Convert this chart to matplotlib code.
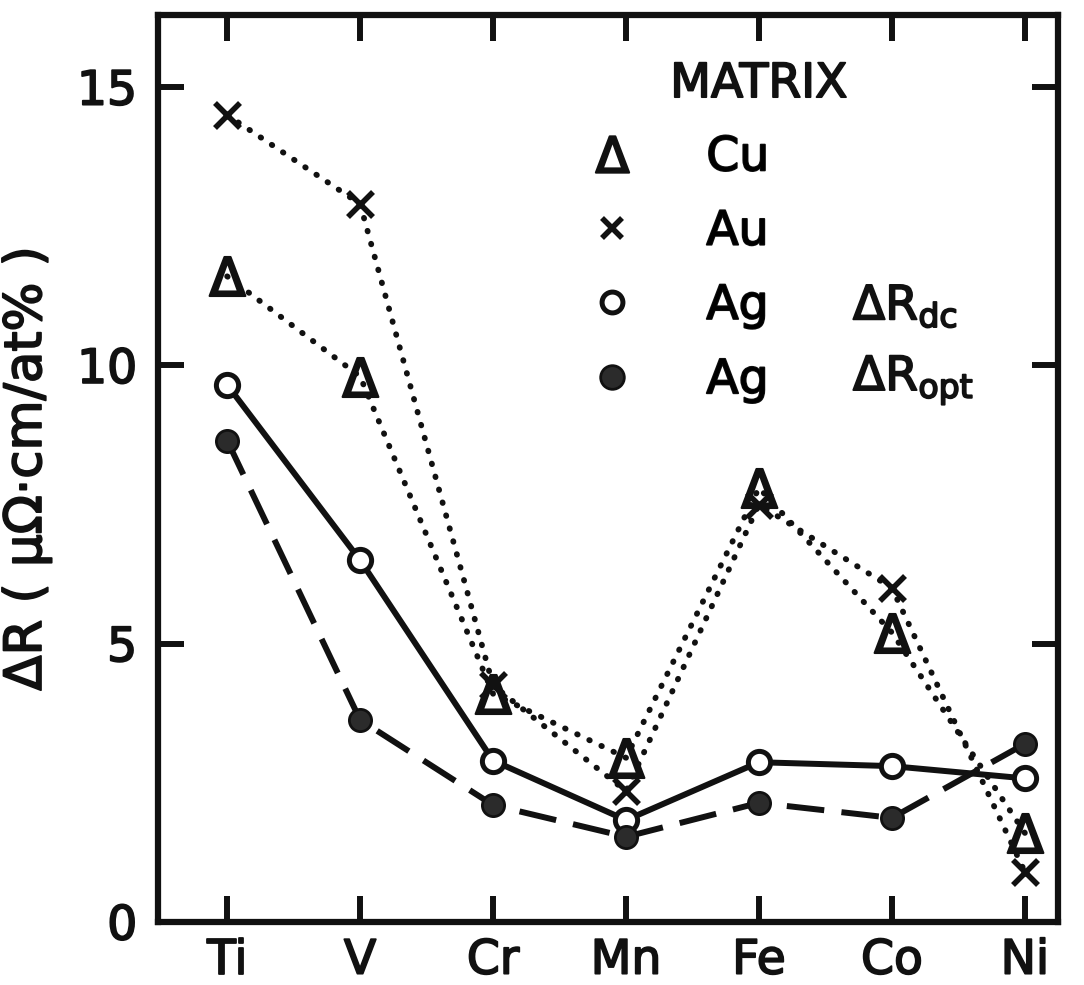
import matplotlib
matplotlib.use("Agg")
import matplotlib.pyplot as plt
import matplotlib.patheffects as pe
from matplotlib.lines import Line2D

# ----------------------------------------------------------------------------
# data (ΔR in µΩ·cm/at%)
# ----------------------------------------------------------------------------
elements = ["Ti", "V", "Cr", "Mn", "Fe", "Co", "Ni"]
cu_matrix = [11.6, 9.8, 4.1, 2.95, 7.8, 5.2, 1.6]
au_matrix = [14.5, 12.9, 4.25, 2.35, 7.5, 6.0, 0.9]
ag_dc = [9.65, 6.5, 2.9, 1.83, 2.87, 2.8, 2.58]
ag_opt = [8.65, 3.63, 2.1, 1.53, 2.14, 1.87, 3.2]

y_ticks = [0, 5, 10, 15]

plt.rcParams["font.family"] = ["DejaVu Sans"]
K = "#111111"
FS = 34
heavy = [pe.withStroke(linewidth=1.3, foreground=K)]

fig = plt.figure(figsize=(10.84, 9.85), dpi=100)
ax = fig.add_axes([0.1458, 0.064, 0.8303, 0.921])
x = list(range(len(elements)))

dot = dict(color=K, lw=4.2, linestyle=(0, (0.1, 2.2)), dash_capstyle="round")
ax.plot(x, au_matrix, **dot, zorder=2)
ax.plot(x, cu_matrix, **dot, zorder=2)
ax.plot(x, ag_dc, color=K, lw=4.3, zorder=3)
ax.plot(x, ag_opt, color=K, lw=4.3, linestyle=(0, (6.3, 2.9)), zorder=3)

ax.plot(x, au_matrix, ls="none", marker="x", ms=18, mew=4, color=K, zorder=4)
ax.plot(x, cu_matrix, ls="none", marker=r"$\Delta$", ms=28, mew=1.6, color=K, zorder=4)
ax.plot(x, ag_dc, ls="none", marker="o", ms=16, mew=3.6, mfc="white", mec=K, zorder=5)
ax.plot(x, ag_opt, ls="none", marker="o", ms=16, mew=2, mfc="#2b2b2b", mec=K, zorder=5)

ax.set_xlim(-0.52, 6.25)
ax.set_ylim(0, 16.3)
ax.set_xticks(x)
ax.set_xticklabels(elements)
ax.set_yticks(y_ticks)

for s in ax.spines.values():
    s.set_linewidth(4.5)
    s.set_color(K)
ax.tick_params(direction="in", length=19, width=4.3, color=K, top=True, right=True,
               labelsize=FS, labelcolor=K)
ax.tick_params(axis="y", pad=15)
ax.tick_params(axis="x", pad=12)
for lab in ax.get_xticklabels() + ax.get_yticklabels():
    lab.set_path_effects(heavy)

ylab = ax.set_ylabel("ΔR ( μΩ·cm/at% )", fontsize=37, color=K, labelpad=18)
ylab.set_path_effects(heavy)

# legend block: MATRIX header, symbol + matrix, then ΔR kind for the Ag rows
handles = [
    Line2D([], [], ls="none", marker=r"$\Delta$", ms=26, mew=1.6, color=K),
    Line2D([], [], ls="none", marker="x", ms=15, mew=4, color=K),
    Line2D([], [], ls="none", marker="o", ms=15, mew=3.6, mfc="white", mec=K),
    Line2D([], [], ls="none", marker="o", ms=17, mew=2, mfc="#2b2b2b", mec=K),
]
leg = ax.legend(handles, ["Cu", "Au", "Ag", "Ag"], loc="upper left",
                bbox_to_anchor=(0.478, 0.867), frameon=False, fontsize=FS,
                handlelength=1.0, handletextpad=1.5, labelspacing=0.62,
                borderpad=0, borderaxespad=0)
for t in leg.get_texts():
    t.set_path_effects(heavy)

ax.text(0.569, 0.923, "MATRIX", transform=ax.transAxes, fontsize=FS, va="center",
        ha="left", color=K, path_effects=heavy)
ax.text(0.772, 0.678, r"$\Delta\mathsf{R}_{\mathsf{dc}}$", transform=ax.transAxes,
        fontsize=FS, va="center", ha="left", color=K, path_effects=heavy)
ax.text(0.772, 0.597, r"$\Delta\mathsf{R}_{\mathsf{opt}}$", transform=ax.transAxes,
        fontsize=FS, va="center", ha="left", color=K, path_effects=heavy)

fig.savefig("out.png", dpi=100)
